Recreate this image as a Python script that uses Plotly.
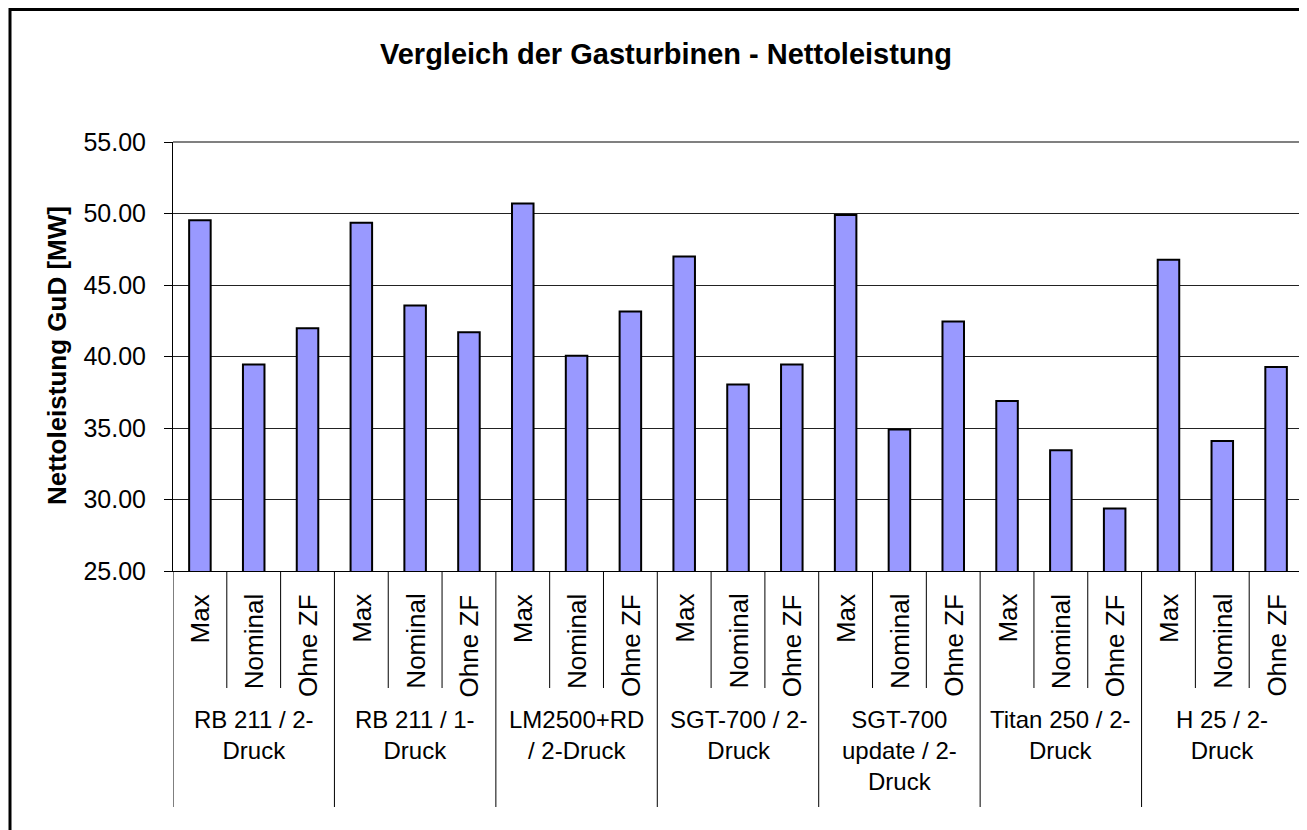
import plotly.graph_objects as go

# turbine groups (outer axis level) and operating modes (inner level)
turbines = [
    "RB 211 / 2-<br>Druck",
    "RB 211 / 1-<br>Druck",
    "LM2500+RD<br>/ 2-Druck",
    "SGT-700 / 2-<br>Druck",
    "SGT-700<br>update / 2-<br>Druck",
    "Titan 250 / 2-<br>Druck",
    "H 25 / 2-<br>Druck",
]
modes = ["Max", "Nominal", "Ohne ZF"]

# net output combined cycle [MW], one value per turbine
max_mw = [49.53, 49.35, 50.70, 47.00, 49.90, 36.89, 46.77]
nominal_mw = [39.44, 43.57, 40.05, 38.05, 34.89, 33.44, 34.09]
ohne_zf_mw = [41.97, 41.70, 43.15, 39.44, 42.45, 29.37, 39.26]

FONT = "Arial, 'Liberation Sans', sans-serif"

# page has an 8px body margin, so the figure is a bit smaller than the window
OFF = 8
W, H = 1307 - OFF, 830 - OFF
# plot area in screen pixels
L, R, T, B = 173, 1303, 142, 571
PW, PH = R - L, B - T


def px_x(p):
    return (p - L) / PW


def px_y(p):
    return (B - p) / PH


cats, vals = [], []
for i, t in enumerate(turbines):
    for m, v in zip(modes, [max_mw[i], nominal_mw[i], ohne_zf_mw[i]]):
        cats.append(f"{t.replace('<br>', ' ')} | {m}")
        vals.append(v)

fig = go.Figure(
    go.Bar(
        x=cats,
        y=vals,
        marker=dict(color="#9999FF", line=dict(color="black", width=2)),
        hoverinfo="x+y",
    )
)

shapes = []
annotations = []

# category dividers: short between modes, long between turbines
n = len(cats)
for k in range(n + 1):
    long_line = k % 3 == 0
    shapes.append(dict(
        type="line", xref="x", yref="paper",
        x0=k - 0.5, x1=k - 0.5, y0=0,
        y1=px_y(807 if long_line else 688),
        line=dict(color="black", width=1),
    ))

for k, c in enumerate(cats):
    annotations.append(dict(
        x=k, y=px_y(592), xref="x", yref="paper",
        text=c.split(" | ")[1], textangle=-90, showarrow=False,
        xanchor="center", yanchor="top",
        font=dict(family=FONT, size=26, color="black"),
    ))

for g, t in enumerate(turbines):
    annotations.append(dict(
        x=3 * g + 1, y=px_y(704), xref="x", yref="paper",
        text=t, showarrow=False, xanchor="center", yanchor="top",
        align="center",
        font=dict(family=FONT, size=24, color="black"),
    ))

# title and y axis title
annotations.append(dict(
    x=px_x(666), y=px_y(54), xref="paper", yref="paper",
    text="<b>Vergleich der Gasturbinen - Nettoleistung</b>", showarrow=False,
    xanchor="center", yanchor="middle",
    font=dict(family=FONT, size=29, color="black"),
))
annotations.append(dict(
    x=px_x(57), y=px_y(356), xref="paper", yref="paper",
    text="<b>Nettoleistung GuD [MW]</b>", showarrow=False, textangle=-90,
    xanchor="center", yanchor="middle",
    font=dict(family=FONT, size=26, color="black"),
))

# plot area border (grey top/right) and outer chart frame
shapes.append(dict(type="line", xref="paper", yref="paper", x0=0, x1=1, y0=1, y1=1,
                   line=dict(color="#808080", width=2)))
shapes.append(dict(type="line", xref="paper", yref="paper", x0=1, x1=1, y0=0, y1=1,
                   line=dict(color="#808080", width=2)))
shapes.append(dict(type="rect", xref="paper", yref="paper",
                   x0=px_x(10), x1=px_x(1340), y0=px_y(860), y1=px_y(OFF + 1.5),
                   line=dict(color="black", width=3)))

fig.update_layout(
    width=W, height=H,
    margin=dict(l=L - OFF, r=W - (R - OFF), t=T - OFF, b=H - (B - OFF), pad=0),
    paper_bgcolor="white", plot_bgcolor="white",
    bargap=0.6,
    showlegend=False,
    font=dict(family=FONT, color="black"),
    shapes=shapes,
    annotations=annotations,
    xaxis=dict(
        showticklabels=False, ticks="", showgrid=False,
        showline=True, linecolor="black", linewidth=1,
        range=[-0.5, n - 0.5],
    ),
    yaxis=dict(
        range=[25, 55], dtick=5, tickformat=".2f",
        showgrid=True, gridcolor="#222222", gridwidth=1,
        ticks="outside", ticklen=8, tickcolor="black",
        ticklabelstandoff=13,
        showline=True, linecolor="black", linewidth=1,
        zeroline=False,
        tickfont=dict(family=FONT, size=25, color="black"),
    ),
)

fig.write_html("out.html")
